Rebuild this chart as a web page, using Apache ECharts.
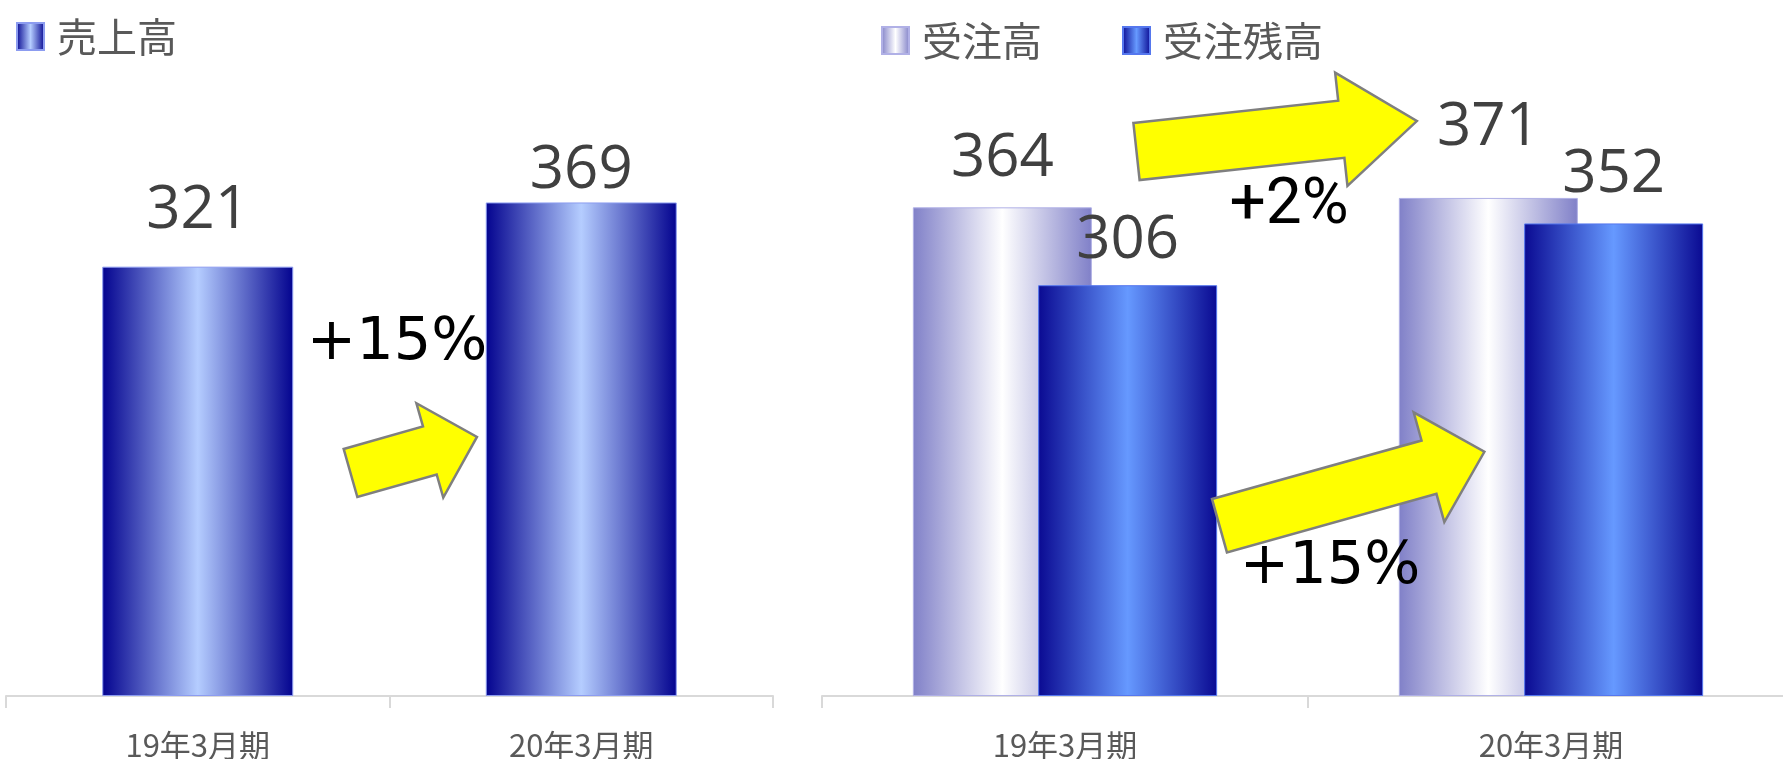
<!DOCTYPE html>
<html><head><meta charset="utf-8">
<script src="https://cdn.jsdelivr.net/npm/echarts@6/dist/echarts.min.js"></script>
<style>html,body{margin:0;padding:0;background:#fff}#c{width:1783px;height:759px}</style>
</head><body><div id="c"></div>
<script>
// ---- data ----
const categories = ['19年3月期', '20年3月期'];
const salesName = '売上高';
const salesValues = [321, 369];
const ordersName = '受注高';
const ordersValues = [364, 371];
const backlogName = '受注残高';
const backlogValues = [306, 352];
const growthTexts = ['+15%', '+2%', '+15%'];

// ---- style config ----
const salesLabelGap = [26, 2];
const ordersLabelGap = [18, 40];
const backlogLabelGap = [14, 19];

function hGrad(edge, mid) {
  return { type: 'linear', x: 0, y: 0, x2: 1, y2: 0,
    colorStops: [{offset: 0, color: edge}, {offset: 0.5, color: mid}, {offset: 1, color: edge}] };
}
const salesGrad = hGrad('#03038f', '#b5cdff');
const ordersGrad = hGrad('#8080c8', '#ffffff');
const backlogGrad = hGrad('#0a0a92', '#6699ff');

const labelStyle = { show: true, position: 'top', color: '#404040', fontSize: 60, fontFamily: 'Open Sans' };
function items(vals, gaps) { return vals.map((v, i) => ({ value: v, label: { distance: gaps[i] } })); }

function arrowPts(cx, cy, ang, len, hw, hh, hl) {
  const a = ang * Math.PI / 180, dx = Math.cos(a), dy = Math.sin(a), nx = -dy, ny = dx;
  const loc = [[0,-hw],[len-hl,-hw],[len-hl,-hh],[len,0],[len-hl,hh],[len-hl,hw],[0,hw]];
  return loc.map(([u, v]) => [cx + u*dx + v*nx, cy + u*dy + v*ny]);
}
function arrow(p) {
  return { type: 'polygon', z: 100, shape: { points: arrowPts.apply(null, p) },
    style: { fill: '#ffff00', stroke: '#7f7f7f', lineWidth: 2.5 } };
}
function bigText(t, x, y, font) {
  return { type: 'text', z: 101, x: x, y: y,
    style: { text: t, fill: '#000', font: font, textAlign: 'center', textVerticalAlign: 'middle' } };
}

const axisCommon = {
  type: 'category', data: categories,
  axisLine: { lineStyle: { color: '#d9d9d9', width: 2 } },
  axisTick: { show: true, length: 12, lineStyle: { color: '#d9d9d9', width: 2 } },
  axisLabel: { color: '#595959', fontSize: 31, fontFamily: 'Noto Sans CJK JP', margin: 34 }
};
const yCommon = { type: 'value', min: 0, max: 400, show: false, splitLine: { show: false } };
const legendText = { color: '#595959', fontSize: 40, lineHeight: 40, fontFamily: 'Noto Sans CJK JP', padding: [0, 0, 12, 8] };

const chart = echarts.init(document.getElementById('c'), null, { renderer: 'canvas' });
chart.setOption({
  animation: false,
  backgroundColor: '#ffffff',
  legend: [
    { data: [salesName], left: 16, top: 10.5, padding: 0, itemWidth: 27, itemHeight: 27, icon: 'rect', selectedMode: false, textStyle: legendText },
    { data: [ordersName, backlogName], left: 881, top: 14.5, padding: 0, itemWidth: 27, itemHeight: 27, itemGap: 80, icon: 'rect', selectedMode: false, textStyle: legendText }
  ],
  grid: [
    { left: 6, width: 767, top: 161, bottom: 63, outerBoundsMode: 'none', containLabel: false },
    { left: 822, width: 972, top: 159, bottom: 63, outerBoundsMode: 'none', containLabel: false }
  ],
  xAxis: [ Object.assign({ gridIndex: 0 }, axisCommon), Object.assign({ gridIndex: 1 }, axisCommon) ],
  yAxis: [ Object.assign({ gridIndex: 0 }, yCommon), Object.assign({ gridIndex: 1 }, yCommon) ],
  series: [
    { name: salesName, type: 'bar', xAxisIndex: 0, yAxisIndex: 0, barWidth: 191,
      itemStyle: { color: salesGrad, borderColor: '#8c9cf0', borderWidth: 1 },
      label: labelStyle, data: items(salesValues, salesLabelGap) },
    { name: ordersName, type: 'bar', xAxisIndex: 1, yAxisIndex: 1, barWidth: 179, barGap: '-30%',
      itemStyle: { color: ordersGrad, borderColor: '#b0b0e6', borderWidth: 1 },
      label: labelStyle, data: items(ordersValues, ordersLabelGap) },
    { name: backlogName, type: 'bar', xAxisIndex: 1, yAxisIndex: 1, barWidth: 179, barGap: '-30%',
      itemStyle: { color: backlogGrad, borderColor: '#5577ee', borderWidth: 1 },
      label: labelStyle, data: items(backlogValues, backlogLabelGap) }
  ],
  graphic: [
    arrow([350.5, 473, -15.9, 131.5, 25, 49, 49]),
    arrow([1136.5, 151.5, -6.2, 282, 28.7, 57, 76]),
    arrow([1219.5, 525.7, -15.6, 275, 27.7, 57, 57.5]),
    bigText(growthTexts[0], 397, 344, '59px "DejaVu Sans"'),
    bigText(growthTexts[1], 1289, 207, '64px Roboto'),
    bigText(growthTexts[2], 1330, 568, '59px "DejaVu Sans"')
  ]
});
</script></body></html>
